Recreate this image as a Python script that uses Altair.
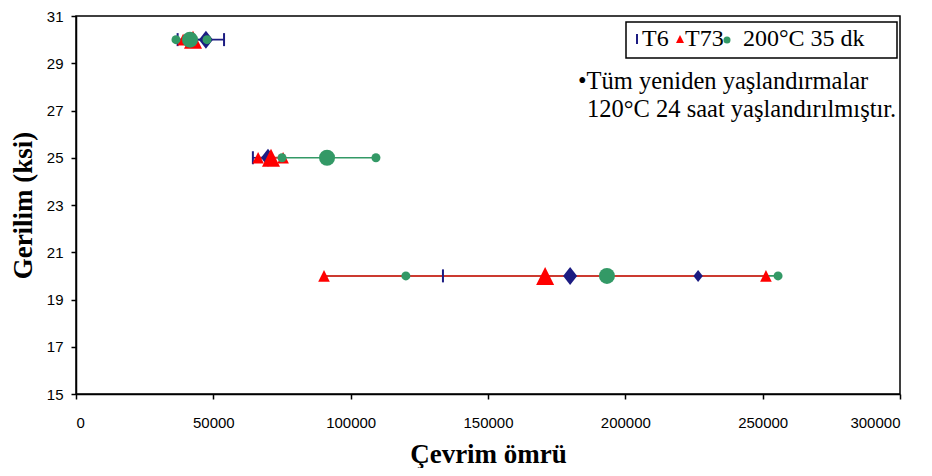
import altair as alt
import pandas as pd

groups = ["T6", "T73", "200°C 35 dk"]

# T6 (navy): end caps (|) and diamonds
t6_stress = [30, 30, 30, 25, 25, 20, 20, 20]
t6_cycles = [37000, 47300, 53900, 64400, 69900, 133600, 179900, 226500]
t6_role = ["end", "mean", "end", "end", "mean", "end", "mean", "single"]

# T73 (red triangles)
t73_stress = [30, 30, 25, 25, 25, 20, 20, 20]
t73_cycles = [39000, 42600, 66300, 71000, 75400, 90300, 170800, 251200]
t73_role = ["single", "mean", "single", "mean", "single", "single", "mean", "single"]

# 200°C 35 dk (green circles)
g_stress = [30, 30, 30, 25, 25, 25, 20, 20, 20]
g_cycles = [36400, 41500, 47700, 75000, 91400, 109200, 120100, 193300, 255600]
g_role = ["single", "mean", "single", "single", "mean", "single", "single", "mean", "single"]

x_ticks = [0, 50000, 100000, 150000, 200000, 250000, 300000]
y_ticks = [15, 17, 19, 21, 23, 25, 27, 29, 31]

legend_labels = ["T6", "T73", "200°C 35 dk"]
note_lines = ["•Tüm yeniden yaşlandırmalar", "120°C 24 saat yaşlandırılmıştır."]

NAVY = "#1c1c82"
RED = "#ff0000"
RED_LINE = "#cc3a30"
GREEN = "#339966"

DIAMOND = "M0,-1L0.78,0L0,1L-0.78,0Z"
TRI = "M0,-1L1,1L-1,1Z"
TICK = "M0,-1L0,1"

df_t6 = pd.DataFrame({"stress": t6_stress, "cycles": t6_cycles, "role": t6_role})
df_t73 = pd.DataFrame({"stress": t73_stress, "cycles": t73_cycles, "role": t73_role})
df_g = pd.DataFrame({"stress": g_stress, "cycles": g_cycles, "role": g_role})

X = alt.X("cycles:Q",
          scale=alt.Scale(domain=[0, 300000], nice=False, zero=False),
          axis=alt.Axis(values=x_ticks, format="d", title="Çevrim ömrü",
                        labelPadding=16, titlePadding=11))
Y = alt.Y("stress:Q",
          scale=alt.Scale(domain=[15, 31], nice=False, zero=False),
          axis=alt.Axis(values=y_ticks, format="d", title="Gerilim (ksi)",
                        labelPadding=8, titlePadding=9))


def line_layer(df, color, width):
    return alt.Chart(df).mark_line(color=color, strokeWidth=width).encode(
        x=X, y=Y, detail="stress:N", order="cycles:Q")


lines = [
    line_layer(df_g, GREEN, 1.6),
    line_layer(df_t6, NAVY, 1.6),
    line_layer(df_t73, RED_LINE, 2),
]

t6_ticks = alt.Chart(df_t6).transform_filter("datum.role == 'end'").mark_point(
    shape=TICK, filled=False, color=NAVY, strokeWidth=2, size=169, opacity=1
).encode(x=X, y=Y)

t6_diam = alt.Chart(df_t6).transform_filter("datum.role != 'end'").mark_point(
    shape=DIAMOND, filled=True, color=NAVY, opacity=1
).encode(x=X, y=Y, size=alt.Size("role:N", scale=alt.Scale(domain=["mean", "single"], range=[324, 144]), legend=None))

t73_pts = alt.Chart(df_t73).mark_point(
    shape=TRI, filled=True, color=RED, opacity=1
).encode(x=X, y=Y, size=alt.Size("role:N", scale=alt.Scale(domain=["mean", "single"], range=[324, 135]), legend=None))

g_pts = alt.Chart(df_g).mark_point(
    shape="circle", filled=True, color=GREEN, opacity=1
).encode(x=X, y=Y, size=alt.Size("role:N", scale=alt.Scale(domain=["mean", "single"], range=[256, 81]), legend=None))

one = pd.DataFrame({"a": [0]})

legend_box = alt.Chart(one).mark_rect(fill="white", stroke="black", strokeWidth=1.5).encode(
    x=alt.value(550), x2=alt.value(821), y=alt.value(6), y2=alt.value(42))

leg_sym_tick = alt.Chart(one).mark_point(shape=TICK, filled=False, color=NAVY, strokeWidth=2, size=100, opacity=1).encode(
    x=alt.value(561), y=alt.value(23))
leg_sym_tri = alt.Chart(one).mark_point(shape=TRI, filled=True, color=RED, size=64, opacity=1).encode(
    x=alt.value(604), y=alt.value(23))
leg_sym_dot = alt.Chart(one).mark_point(shape="circle", filled=True, color=GREEN, size=49, opacity=1).encode(
    x=alt.value(651), y=alt.value(24))

leg_df = pd.DataFrame({"t": legend_labels, "x": [566, 609, 667]})
leg_text = alt.Chart(leg_df).mark_text(
    font="Liberation Serif", fontSize=24, align="left", baseline="alphabetic", color="black"
).encode(x=alt.X("x:Q", scale=None), y=alt.value(30), text="t:N")

note_df = pd.DataFrame({"t": note_lines, "x": [502, 511], "y": [73, 101]})
note_text = alt.Chart(note_df).mark_text(
    font="Liberation Serif", fontSize=24.5, align="left", baseline="alphabetic", color="black"
).encode(x=alt.X("x:Q", scale=None), y=alt.Y("y:Q", scale=None), text="t:N")

chart = alt.layer(
    *lines, t6_ticks, t6_diam, t73_pts, g_pts,
    legend_box, leg_sym_tick, leg_sym_tri, leg_sym_dot, leg_text, note_text
).resolve_scale(size="independent").properties(
    width=824, height=378,
    padding={"left": 68, "top": 8, "right": 24, "bottom": 74},
    autosize=alt.AutoSizeParams(type="none"),
    background="white",
).configure_axis(
    grid=False,
    domainColor="black", domainWidth=1.5,
    tickColor="black", tickWidth=1.5, tickSize=5,
    labelFont="Liberation Sans", labelFontSize=15, labelColor="black",
    titleFont="Liberation Serif", titleFontSize=27, titleFontWeight="bold", titleColor="black",
).configure_view(stroke="black", strokeWidth=1.5)

chart.save("out.html", embed_options={"renderer": "svg", "actions": False})
